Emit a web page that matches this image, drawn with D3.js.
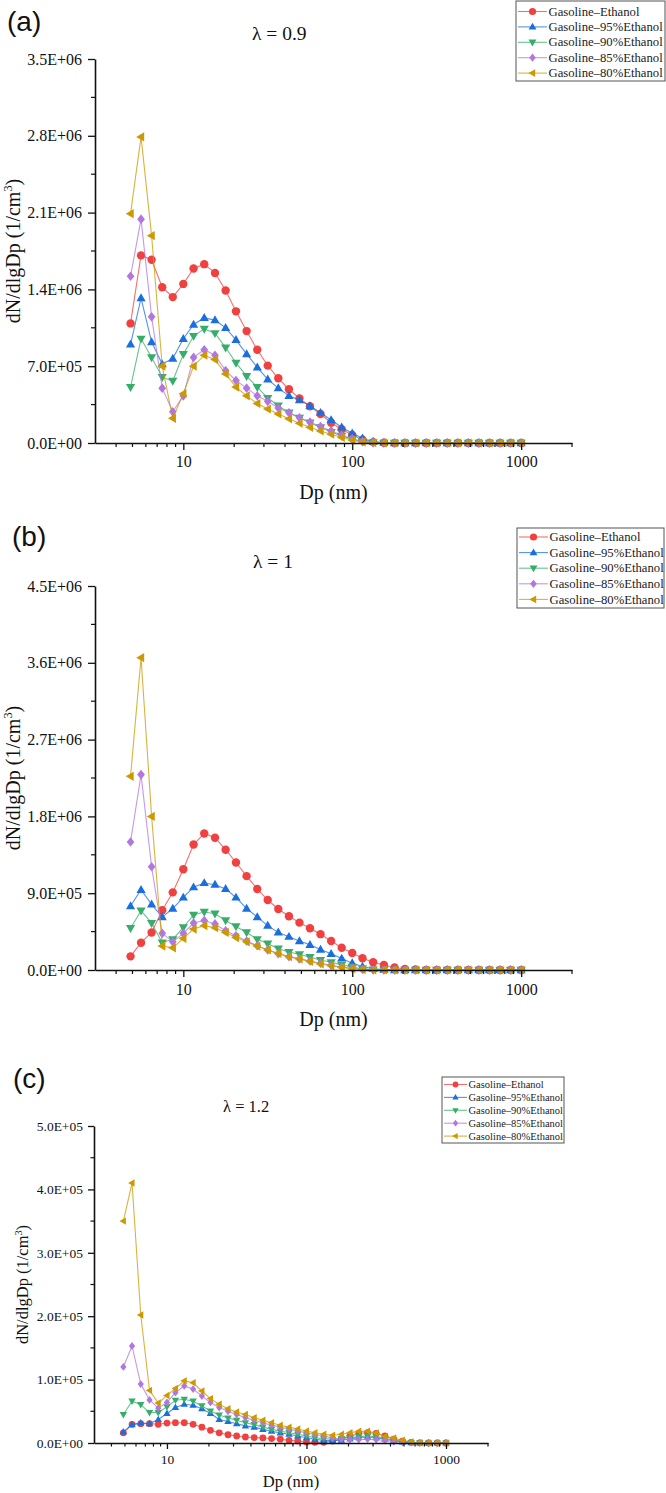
<!DOCTYPE html>
<html>
<head>
<meta charset="utf-8">
<script src="https://cdn.jsdelivr.net/npm/d3@7"></script>
<style>
html,body{margin:0;padding:0;background:#fff;}
svg{display:block;}
</style>
</head>
<body>
<svg id="chart" width="666" height="1493"></svg>
<script>
// ---------------- DATA ----------------
const dp = [4.87, 5.62, 6.49, 7.50, 8.66, 10.0, 11.5, 13.3, 15.4, 17.8, 20.5, 23.7, 27.4, 31.6, 36.5, 42.2, 48.7, 56.2, 64.9, 75.0, 86.6, 100, 115, 133, 154, 178, 205, 237, 274, 316, 365, 422, 487, 562, 649, 750, 866, 1000];

const seriesNames = ["Gasoline\u2013Ethanol", "Gasoline\u201395%Ethanol", "Gasoline\u201390%Ethanol", "Gasoline\u201385%Ethanol", "Gasoline\u201380%Ethanol"];

// Panel (a) lambda = 0.9  (values in 1/cm3)
const a_E0  = [10.9e5, 17.1e5, 16.7e5, 14.2e5, 13.3e5, 14.5e5, 15.9e5, 16.3e5, 15.5e5, 13.9e5, 12.0e5, 10.2e5, 8.5e5, 7.05e5, 5.9e5, 4.9e5, 4.07e5, 3.35e5, 2.64e5, 1.85e5, 1.25e5, 0.73e5, 0.3e5, 0.08e5, 0.02e5, 0, 0, 0, 0, 0, 0, 0, 0, 0, 0, 0, 0, 0];
const a_E95 = [9.0e5, 13.2e5, 9.2e5, 7.2e5, 7.7e5, 9.5e5, 10.8e5, 11.4e5, 11.2e5, 10.5e5, 9.4e5, 8.1e5, 6.9e5, 5.8e5, 5.0e5, 4.3e5, 3.92e5, 3.37e5, 2.76e5, 2.1e5, 1.43e5, 0.88e5, 0.43e5, 0.12e5, 0.03e5, 0, 0, 0, 0, 0, 0, 0, 0, 0, 0, 0, 0, 0];
const a_E90 = [5.1e5, 9.5e5, 7.8e5, 6.0e5, 5.65e5, 8.1e5, 9.75e5, 10.4e5, 10.0e5, 8.7e5, 7.3e5, 6.1e5, 5.1e5, 4.1e5, 3.4e5, 2.76e5, 2.3e5, 1.85e5, 1.43e5, 1.0e5, 0.65e5, 0.35e5, 0.12e5, 0.03e5, 0.01e5, 0, 0, 0, 0, 0, 0, 0, 0, 0, 0, 0, 0, 0];
const a_E85 = [15.2e5, 20.4e5, 11.5e5, 5.0e5, 2.85e5, 4.3e5, 7.8e5, 8.5e5, 8.0e5, 6.6e5, 5.7e5, 5.0e5, 4.3e5, 3.8e5, 3.2e5, 2.76e5, 2.3e5, 1.9e5, 1.5e5, 1.1e5, 0.7e5, 0.38e5, 0.13e5, 0.03e5, 0.01e5, 0, 0, 0, 0, 0, 0, 0, 0, 0, 0, 0, 0, 0];
const a_E80 = [20.9e5, 27.9e5, 18.9e5, 7.0e5, 2.25e5, 4.5e5, 7.0e5, 8.0e5, 7.6e5, 6.3e5, 5.1e5, 4.3e5, 3.6e5, 3.1e5, 2.64e5, 2.2e5, 1.8e5, 1.43e5, 1.1e5, 0.8e5, 0.5e5, 0.25e5, 0.08e5, 0.02e5, 0.01e5, 0, 0, 0, 0, 0, 0, 0, 0, 0, 0, 0, 0, 0];

// Panel (b) lambda = 1
const b_E0  = [1.6e5, 3.2e5, 4.4e5, 7.0e5, 9.1e5, 11.8e5, 14.7e5, 16.0e5, 15.5e5, 14.1e5, 12.6e5, 11.0e5, 9.5e5, 8.2e5, 7.15e5, 6.3e5, 5.55e5, 4.9e5, 4.2e5, 3.4e5, 2.6e5, 2.0e5, 1.37e5, 0.9e5, 0.59e5, 0.3e5, 0.12e5, 0.05e5, 0, 0, 0, 0, 0, 0, 0, 0, 0, 0];
const b_E95 = [7.5e5, 9.4e5, 7.7e5, 6.2e5, 7.2e5, 8.5e5, 9.7e5, 10.2e5, 10.0e5, 9.5e5, 8.5e5, 7.2e5, 6.2e5, 5.2e5, 4.4e5, 3.9e5, 3.4e5, 2.95e5, 2.4e5, 1.9e5, 1.35e5, 0.8e5, 0.4e5, 0.15e5, 0.05e5, 0, 0, 0, 0, 0, 0, 0, 0, 0, 0, 0, 0, 0];
const b_E90 = [4.9e5, 6.95e5, 5.5e5, 3.2e5, 3.6e5, 5.0e5, 6.45e5, 6.8e5, 6.6e5, 5.8e5, 5.1e5, 4.4e5, 3.6e5, 3.1e5, 2.5e5, 2.1e5, 1.84e5, 1.5e5, 1.17e5, 0.9e5, 0.6e5, 0.35e5, 0.15e5, 0.05e5, 0.01e5, 0, 0, 0, 0, 0, 0, 0, 0, 0, 0, 0, 0, 0];
const b_E85 = [15.0e5, 22.9e5, 12.1e5, 4.3e5, 3.3e5, 4.3e5, 5.5e5, 5.8e5, 5.4e5, 4.6e5, 4.0e5, 3.4e5, 2.85e5, 2.35e5, 1.9e5, 1.55e5, 1.3e5, 1.05e5, 0.8e5, 0.55e5, 0.35e5, 0.2e5, 0.08e5, 0.02e5, 0.01e5, 0, 0, 0, 0, 0, 0, 0, 0, 0, 0, 0, 0, 0];
const b_E80 = [22.7e5, 36.6e5, 18.0e5, 2.8e5, 2.6e5, 3.7e5, 4.8e5, 5.2e5, 4.95e5, 4.4e5, 3.8e5, 3.3e5, 2.8e5, 2.35e5, 1.95e5, 1.55e5, 1.3e5, 1.0e5, 0.7e5, 0.5e5, 0.3e5, 0.15e5, 0.05e5, 0.01e5, 0, 0, 0, 0, 0, 0, 0, 0, 0, 0, 0, 0, 0, 0];

// Panel (c) lambda = 1.2
const c_E0  = [1.6e4, 2.95e4, 3.05e4, 3.05e4, 2.95e4, 3.15e4, 3.2e4, 3.2e4, 2.95e4, 2.5e4, 2.0e4, 1.6e4, 1.3e4, 1.1e4, 0.95e4, 0.85e4, 0.8e4, 0.7e4, 0.6e4, 0.42e4, 0.32e4, 0.16e4, 0.1e4, 0.1e4, 0.3e4, 0.7e4, 1.1e4, 1.5e4, 1.65e4, 1.5e4, 1.1e4, 0.6e4, 0.3e4, 0.1e4, 0.03e4, 0, 0, 0];
const c_E95 = [1.75e4, 2.9e4, 3.15e4, 3.05e4, 3.7e4, 4.65e4, 5.6e4, 6.1e4, 5.95e4, 5.4e4, 4.65e4, 3.7e4, 3.4e4, 3.05e4, 2.7e4, 2.5e4, 2.15e4, 1.85e4, 1.6e4, 1.37e4, 1.1e4, 0.84e4, 0.58e4, 0.42e4, 0.35e4, 0.45e4, 0.65e4, 0.85e4, 0.95e4, 0.85e4, 0.6e4, 0.35e4, 0.15e4, 0.05e4, 0.02e4, 0, 0, 0];
const c_E90 = [4.5e4, 6.6e4, 6.05e4, 4.8e4, 4.8e4, 5.7e4, 6.75e4, 6.9e4, 6.6e4, 5.85e4, 5.05e4, 4.4e4, 3.95e4, 3.6e4, 3.2e4, 2.9e4, 2.5e4, 2.15e4, 1.9e4, 1.63e4, 1.37e4, 1.1e4, 0.84e4, 0.69e4, 0.6e4, 0.7e4, 0.85e4, 1.0e4, 1.1e4, 1.0e4, 0.75e4, 0.45e4, 0.2e4, 0.08e4, 0.03e4, 0, 0, 0];
const c_E85 = [12.0e4, 15.3e4, 9.3e4, 6.8e4, 5.5e4, 6.4e4, 7.95e4, 9.0e4, 8.5e4, 7.4e4, 6.4e4, 5.6e4, 5.0e4, 4.5e4, 4.0e4, 3.6e4, 3.2e4, 2.8e4, 2.5e4, 2.2e4, 1.9e4, 1.6e4, 1.37e4, 1.1e4, 0.8e4, 0.6e4, 0.55e4, 0.55e4, 0.6e4, 0.55e4, 0.4e4, 0.2e4, 0.1e4, 0.05e4, 0.02e4, 0, 0, 0];
const c_E80 = [35.0e4, 41.0e4, 20.2e4, 8.3e4, 6.3e4, 7.5e4, 8.6e4, 9.8e4, 9.5e4, 8.2e4, 7.0e4, 6.1e4, 5.4e4, 4.9e4, 4.5e4, 4.0e4, 3.6e4, 3.2e4, 2.8e4, 2.5e4, 2.2e4, 1.9e4, 1.63e4, 1.37e4, 1.21e4, 1.37e4, 1.63e4, 1.84e4, 1.84e4, 1.58e4, 1.05e4, 0.79e4, 0.42e4, 0.16e4, 0.05e4, 0.02e4, 0, 0];

const xTickMajor = [10, 100, 1000];
const xTickMinor = [4, 5, 6, 7, 8, 9, 20, 30, 40, 50, 60, 70, 80, 90, 200, 300, 400, 500, 600, 700, 800, 900, 2000];

// ---------------- STYLE / LAYOUT ----------------
const colors = ["#F14040", "#1A6FDF", "#37AD6B", "#B177DE", "#CC9900"];
const markers = ["circle", "triUp", "triDown", "diamond", "triLeft"];

const panels = [
  { tag: "(a)", lam: "\u03bb = 0.9", data: [a_E0, a_E95, a_E90, a_E85, a_E80],
    yMax: 3.5e6, yStep: 7e5, x0: 95, x1: 572, yTop: 59, yBot: 443,
    tagPos: [7, 31], lamPos: [252, 40], tickFs: 16, titleFs: 20, lamFs: 19.5, tagFs: 28,
    xLabY: 24, xTitleY: 499, yTitleX: 20, ms: 4.2, majT: 7, minT: 4,
    leg: { x: 516, y: 1, w: 149, h: 80, r0: 10.5, rh: 15.4, fs: 12.7, lx: 2, ll: 29, ms: 3.6 } },
  { tag: "(b)", lam: "\u03bb = 1", data: [b_E0, b_E95, b_E90, b_E85, b_E80],
    yMax: 4.5e6, yStep: 9e5, x0: 95, x1: 572, yTop: 586, yBot: 970,
    tagPos: [12, 546], lamPos: [253, 568], tickFs: 16, titleFs: 20, lamFs: 19.5, tagFs: 28,
    xLabY: 25, xTitleY: 1026, yTitleX: 20, ms: 4.2, majT: 7, minT: 4,
    leg: { x: 517, y: 528, w: 147, h: 80, r0: 9, rh: 15.6, fs: 12.7, lx: 2, ll: 29, ms: 3.6 } },
  { tag: "(c)", lam: "\u03bb = 1.2", data: [c_E0, c_E95, c_E90, c_E85, c_E80],
    yMax: 5e5, yStep: 1e5, x0: 94, x1: 488, yTop: 1126, yBot: 1443,
    tagPos: [13, 1088], lamPos: [223, 1112], tickFs: 13.5, titleFs: 16.5, lamFs: 16.5, tagFs: 28,
    xLabY: 21, xTitleY: 1487, yTitleX: 28, ms: 3.4, majT: 6, minT: 3.5,
    leg: { x: 442, y: 1077, w: 122, h: 66, r0: 7.5, rh: 12.9, fs: 10.5, lx: 2, ll: 23, ms: 2.9 } }
];

const serif = "'Liberation Serif','Times New Roman',Times,serif";
const sans = "'Liberation Sans',Arial,Helvetica,sans-serif";

function markerPath(type, s) {
  switch (type) {
    case "circle": {
      return `M${s},0A${s},${s},0,1,1,${-s},0A${s},${s},0,1,1,${s},0Z`;
    }
    case "triUp": {
      const h = s * 1.15;
      return `M0,${-h}L${h * 0.95},${h * 0.65}L${-h * 0.95},${h * 0.65}Z`;
    }
    case "triDown": {
      const h = s * 1.15;
      return `M0,${h}L${h * 0.95},${-h * 0.65}L${-h * 0.95},${-h * 0.65}Z`;
    }
    case "diamond": {
      const h = s * 1.15;
      return `M0,${-h}L${h * 0.8},0L0,${h}L${-h * 0.8},0Z`;
    }
    case "triLeft": {
      const h = s * 1.15;
      return `M${-h},0L${h * 0.65},${-h * 0.95}L${h * 0.65},${h * 0.95}Z`;
    }
  }
}

function fmtE(v) {
  if (v === 0) return "0.0E+00";
  const e = Math.floor(Math.log10(v) + 1e-9);
  const m = v / Math.pow(10, e);
  return m.toFixed(1) + "E+" + String(e).padStart(2, "0");
}

const svg = d3.select("#chart");

panels.forEach(p => {
  const g = svg.append("g");
  const x = d3.scaleLog().domain([3, 2000]).range([p.x0, p.x1]);
  const y = d3.scaleLinear().domain([0, p.yMax]).range([p.yBot, p.yTop]);

  // series
  const line = d3.line().x((d, i) => x(dp[i])).y(d => y(d));
  p.data.forEach((vals, k) => {
    g.append("path")
      .attr("d", line(vals))
      .attr("fill", "none")
      .attr("stroke", colors[k])
      .attr("stroke-opacity", 0.75)
      .attr("stroke-width", 1.1);
    g.append("g").selectAll("path")
      .data(vals)
      .join("path")
      .attr("transform", (d, i) => `translate(${x(dp[i])},${y(d)})`)
      .attr("d", markerPath(markers[k], p.ms))
      .attr("fill", colors[k]);
  });

  // x axis
  const xAxis = g.append("g").attr("transform", `translate(0,${p.yBot})`)
    .call(d3.axisBottom(x).tickValues(xTickMajor).tickFormat(d3.format("d")).tickSize(p.majT).tickSizeOuter(0));
  xAxis.select(".domain").attr("stroke-width", 1.6).attr("stroke", "#111");
  xAxis.selectAll(".tick line").attr("stroke-width", 1.3).attr("stroke", "#111");
  xAxis.selectAll(".tick text").attr("y", p.xLabY).attr("dy", 0)
    .attr("font-family", serif).attr("font-size", p.tickFs).attr("fill", "#111");
  g.append("g").attr("transform", `translate(0,${p.yBot})`)
    .selectAll("line").data(xTickMinor).join("line")
    .attr("x1", d => x(d)).attr("x2", d => x(d))
    .attr("y1", 0).attr("y2", p.minT)
    .attr("stroke", "#111").attr("stroke-width", 1.2);

  // y axis
  const yMajor = d3.range(0, p.yMax + p.yStep / 2, p.yStep);
  const yMinor = d3.range(p.yStep / 2, p.yMax, p.yStep);
  const yAxis = g.append("g").attr("transform", `translate(${p.x0},0)`)
    .call(d3.axisLeft(y).tickValues(yMajor).tickFormat(fmtE).tickSize(p.majT).tickSizeOuter(0).tickPadding(p.majT === 7 ? 6 : 5));
  yAxis.select(".domain").attr("stroke-width", 1.6).attr("stroke", "#111");
  yAxis.selectAll(".tick line").attr("stroke-width", 1.3).attr("stroke", "#111");
  yAxis.selectAll(".tick text").attr("font-family", serif).attr("font-size", p.tickFs).attr("fill", "#111");
  g.append("g").attr("transform", `translate(${p.x0},0)`)
    .selectAll("line").data(yMinor).join("line")
    .attr("x1", -p.minT).attr("x2", 0)
    .attr("y1", d => y(d)).attr("y2", d => y(d))
    .attr("stroke", "#111").attr("stroke-width", 1.2);

  // titles
  g.append("text").attr("x", (p.x0 + p.x1) / 2).attr("y", p.xTitleY)
    .attr("text-anchor", "middle").attr("font-family", serif).attr("font-size", p.titleFs)
    .attr("fill", "#111").text("Dp (nm)");
  const yc = (p.yTop + p.yBot) / 2;
  const yt = g.append("text")
    .attr("transform", `translate(${p.yTitleX},${yc}) rotate(-90)`)
    .attr("text-anchor", "middle").attr("font-family", serif).attr("font-size", p.titleFs)
    .attr("fill", "#111");
  yt.append("tspan").text("dN/dlgDp (1/cm");
  yt.append("tspan").attr("font-size", p.titleFs * 0.62).attr("dy", -p.titleFs * 0.38).text("3");
  yt.append("tspan").attr("dy", p.titleFs * 0.38).text(")");

  g.append("text").attr("x", p.lamPos[0]).attr("y", p.lamPos[1])
    .attr("font-family", serif).attr("font-size", p.lamFs).attr("fill", "#111").text(p.lam);
  g.append("text").attr("x", p.tagPos[0]).attr("y", p.tagPos[1])
    .attr("font-family", sans).attr("font-size", p.tagFs).attr("fill", "#111").text(p.tag);

  // legend
  const L = p.leg;
  const lg = g.append("g");
  lg.append("rect").attr("x", L.x).attr("y", L.y).attr("width", L.w).attr("height", L.h)
    .attr("fill", "#fff").attr("stroke", "#555").attr("stroke-width", 1);
  seriesNames.forEach((name, k) => {
    const ry = L.y + L.r0 + k * L.rh;
    const lx0 = L.x + L.lx, lx1 = lx0 + L.ll;
    lg.append("line").attr("x1", lx0).attr("x2", lx1).attr("y1", ry).attr("y2", ry)
      .attr("stroke", colors[k]).attr("stroke-opacity", 0.75).attr("stroke-width", 1.1);
    lg.append("path").attr("transform", `translate(${(lx0 + lx1) / 2},${ry})`)
      .attr("d", markerPath(markers[k], L.ms)).attr("fill", colors[k]);
    lg.append("text").attr("x", lx1 + 1.5).attr("y", ry).attr("dy", "0.33em")
      .attr("font-family", serif).attr("font-size", L.fs).attr("fill", "#222").text(name);
  });
});
</script>
</body>
</html>
